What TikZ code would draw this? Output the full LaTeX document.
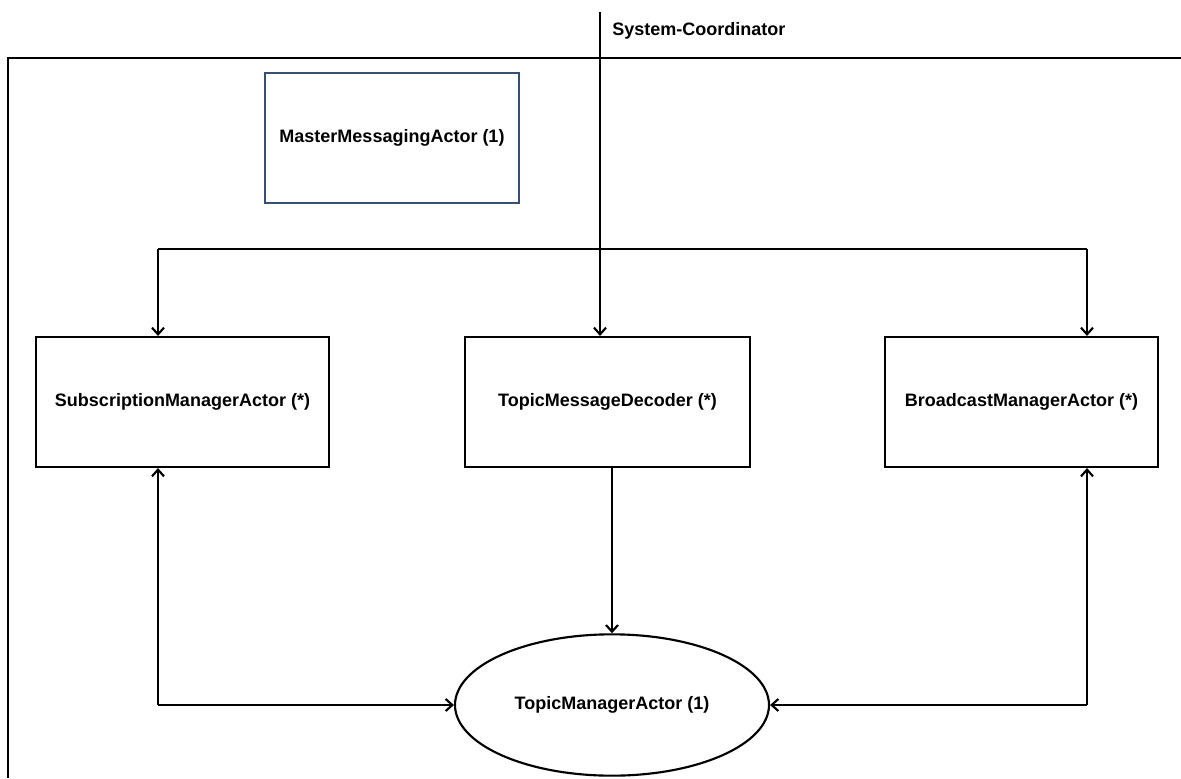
\documentclass[tikz,border=0pt]{standalone}
\usepackage{fontspec}
\setmainfont{Liberation Sans}
\usetikzlibrary{shapes.geometric,arrows.meta}
\definecolor{masteredge}{RGB}{52,80,120}
\begin{document}
\begin{tikzpicture}[x=0.75pt,y=-0.75pt,
  every node/.style={font=\fontsize{13.5}{16}\selectfont\bfseries},
  actorbox/.style={draw=black,line width=1.6pt,rectangle,inner sep=0pt,
    minimum height=97.5pt},
  arr/.style={line width=1.6pt,-{Straight Barb[length=5pt,width=9pt,line width=1.6pt]}},
  link/.style={line width=1.6pt}]
\useasboundingbox (0,0) rectangle (1181,778);

% enclosing frame (top and left edges only)
\draw[line width=2.2pt] (1181,58) -- (8,58) -- (8,778);

% actors
\node[draw=masteredge,line width=1.6pt,inner sep=0pt,minimum width=190.5pt,minimum height=97.5pt]
  (master) at (392,138) {MasterMessagingActor (1)};
\node[actorbox,minimum width=219.75pt] (sub) at (182.5,402) {SubscriptionManagerActor (*)};
\node[actorbox,minimum width=213.75pt] (tmd) at (607.5,402) {TopicMessageDecoder (*)};
\node[actorbox,minimum width=204.75pt] (bc) at (1021.5,402) {BroadcastManagerActor (*)};
\node[draw=black,line width=1.6pt,ellipse,inner sep=0pt,minimum width=235.5pt,minimum height=106pt]
  (tma) at (612,705) {TopicManagerActor (1)};

% system coordinator entry
\coordinate (sctop) at (600,12);
\node[anchor=west,inner sep=0pt] (sclabel) at (612,31) {System-Coordinator};
\draw[arr] (sctop) -- (sctop |- tmd.north);

% distribution bus to the outer actors
\coordinate (busL) at (158,249);
\coordinate (busR) at (1087,249);
\draw[link] (busL) -- (busR);
\draw[arr] (busL) -- (busL |- sub.north);
\draw[arr] (busR) -- (busR |- bc.north);

% decoder to topic manager
\draw[arr] (tma.north |- tmd.south) -- (tma.north);

% two-way links with the topic manager
\coordinate (cornerL) at (busL |- tma.west);
\coordinate (cornerR) at (busR |- tma.east);
\draw[arr] (cornerL) -- (cornerL |- sub.south);
\draw[arr] (cornerL) -- (tma.west);
\draw[arr] (cornerR) -- (cornerR |- bc.south);
\draw[arr] (cornerR) -- (tma.east);
\end{tikzpicture}
\end{document}
